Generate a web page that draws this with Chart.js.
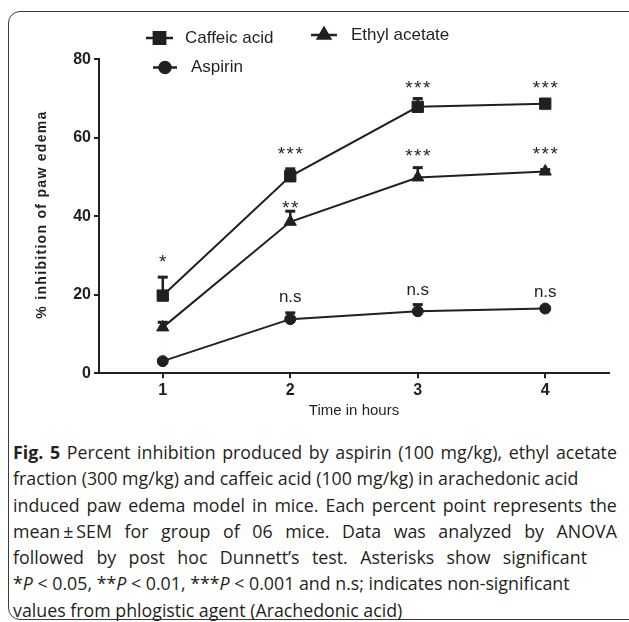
<!DOCTYPE html>
<html>
<head>
<meta charset="utf-8">
<title>Fig. 5</title>
<script src="https://cdn.jsdelivr.net/npm/chart.js@4.4.1/dist/chart.umd.min.js"></script>
<style>
  html, body { margin: 0; padding: 0; background: #fff; }
  body { width: 629px; height: 622px; position: relative; overflow: hidden; }
  #frame { position: absolute; left: 8px; top: 11px; width: 660px; height: 607px;
           border: 1.5px solid #3a3a3a; border-radius: 12px; }
  #chart { position: absolute; left: 0; top: 0; }
  #caption { position: absolute; left: 13px; top: 439px; width: 604px;
             font-family: "Open Sans", "Noto Sans", sans-serif; font-size: 17.8px;
             line-height: 26.3px; color: #231f20; }
  .ln { white-space: nowrap; height: 26.3px; }
  .j { display: flex; justify-content: space-between; }
</style>
</head>
<body>
<div id="frame"></div>
<canvas id="chart" width="629" height="430"></canvas>
<div id="caption"></div>

<script>
// Data (% inhibition, mean and upper SEM)
const hours = [1, 2, 3, 4];
const caffeicMean = [19.8, 50.2, 67.9, 68.7];
const caffeicSem = [4.7, 1.9, 2.1, 0.5];
const ethylMean = [11.7, 38.6, 49.9, 51.4];
const ethylSem = [1.3, 2.7, 2.5, 0.5];
const aspirinMean = [3.1, 13.8, 15.8, 16.5];
const aspirinSem = [0.4, 1.6, 1.7, 0.4];

// significance marks and where they sit (y value of the mark centre)
const caffeicMarks = ['*', '***', '***', '***'];
const caffeicMarkY = [29.7, 57.1, 73.9, 74.0];
const ethylMarks = ['', '**', '***', '***'];
const ethylMarkY = [0, 43.3, 56.5, 57.1];
const aspirinMarks = ['', 'n.s', 'n.s', 'n.s'];
const aspirinMarkY = [0, 19.4, 21.0, 20.6];

const yTicks = [0, 20, 40, 60, 80];

const captionLines = [
  '<b>Fig.</b> <b>5</b> Percent inhibition produced by aspirin (100 mg/kg), ethyl acetate',
  'fraction (300 mg/kg) and caffeic acid (100 mg/kg) in arachedonic acid',
  'induced paw edema model in mice. Each percent point represents the',
  'mean\u2009±\u2009SEM for group of 06 mice. Data was analyzed by ANOVA',
  'followed by post hoc Dunnett\u2019s test. Asterisks show significant',
  '*<i>P</i> &lt; 0.05, **<i>P</i> &lt; 0.01, ***<i>P</i> &lt; 0.001 and n.s; indicates non-significant',
  'values from phlogistic agent (Arachedonic acid)'
];
const justified = [true, false, true, true, true, false, false];

const ink = '#231f20';
const family = '"Liberation Sans", Arial, sans-serif';

// Caption
const cap = document.getElementById('caption');
captionLines.forEach((line, i) => {
  const div = document.createElement('div');
  div.className = 'ln' + (justified[i] ? ' j' : '');
  if (justified[i]) {
    line.split(' ').forEach(w => {
      const s = document.createElement('span');
      s.innerHTML = w;
      div.appendChild(s);
    });
  } else {
    div.innerHTML = line;
  }
  if (i === 4) div.style.width = '574px';
  cap.appendChild(div);
});

function points(means) {
  return hours.map((h, i) => ({ x: h, y: means[i] }));
}

// upper error bars, drawn under the markers
const errorBars = {
  id: 'errorBars',
  beforeDatasetsDraw(chart) {
    const { ctx, scales: { x, y } } = chart;
    ctx.save();
    ctx.strokeStyle = ink;
    chart.data.datasets.forEach(ds => {
      ds.data.forEach((p, i) => {
        const px = x.getPixelForValue(p.x);
        const y0 = y.getPixelForValue(p.y);
        const y1 = y.getPixelForValue(p.y + ds.sem[i]);
        ctx.lineWidth = 2.5;
        ctx.beginPath();
        ctx.moveTo(px, y0);
        ctx.lineTo(px, y1);
        ctx.stroke();
        ctx.lineWidth = 3;
        ctx.beginPath();
        ctx.moveTo(px - 5, y1);
        ctx.lineTo(px + 5, y1);
        ctx.stroke();
      });
    });
    ctx.restore();
  }
};

// asterisks and n.s above the points
const sigMarks = {
  id: 'sigMarks',
  afterDatasetsDraw(chart) {
    const { ctx, scales: { x, y } } = chart;
    ctx.save();
    ctx.fillStyle = ink;
    ctx.textAlign = 'center';
    ctx.textBaseline = 'alphabetic';
    chart.data.datasets.forEach(ds => {
      ds.marks.forEach((m, i) => {
        if (!m) return;
        const px = x.getPixelForValue(hours[i]);
        const py = y.getPixelForValue(ds.markY[i]);
        if (m.startsWith('*')) {
          ctx.font = '19px ' + family;
          ctx.letterSpacing = '1.5px';
          ctx.fillText(m, px + 0.75, py + 0.57 * 19);
        } else {
          ctx.font = '17px ' + family;
          ctx.letterSpacing = '0px';
          ctx.fillText(m, px, py + 0.27 * 17);
        }
      });
    });
    ctx.restore();
  }
};

// legend in two rows like the original, plus spaced y title
const extras = {
  id: 'extras',
  afterDraw(chart, args, opts) {
    const { ctx } = chart;
    ctx.save();
    chart.data.datasets.forEach((ds, i) => {
      const it = opts.items[i];
      ctx.strokeStyle = ink;
      ctx.fillStyle = ink;
      ctx.lineWidth = 2.5;
      ctx.beginPath();
      ctx.moveTo(it.x1, it.y);
      ctx.lineTo(it.x2, it.y);
      ctx.stroke();
      Chart.helpers.drawPoint(ctx, {
        pointStyle: ds.pointStyle, radius: ds.pointRadius, rotation: 0, borderWidth: 1
      }, (it.x1 + it.x2) / 2, it.y);
      ctx.font = '17px ' + family;
      ctx.textAlign = 'left';
      ctx.textBaseline = 'middle';
      ctx.fillText(ds.label, it.tx, it.y);
    });

    ctx.translate(opts.titleX, opts.titleY);
    ctx.rotate(-Math.PI / 2);
    ctx.font = 'bold 14px ' + family;
    ctx.letterSpacing = '1.3px';
    ctx.textAlign = 'center';
    ctx.textBaseline = 'middle';
    ctx.fillText(opts.title, 0, 0);
    ctx.restore();
  }
};

const axisStyle = {
  grid: { drawOnChartArea: false, tickLength: 5, color: ink, lineWidth: 2 },
  border: { color: ink, width: 2 },
  ticks: { padding: 3, color: ink, font: { family: family, size: 16, weight: 'bold' } }
};

const config = {
  type: 'line',
  data: {
    datasets: [
      {
        label: 'Caffeic acid', data: points(caffeicMean), sem: caffeicSem,
        marks: caffeicMarks, markY: caffeicMarkY, pointStyle: 'rect', pointRadius: 8
      },
      {
        label: 'Ethyl acetate', data: points(ethylMean), sem: ethylSem,
        marks: ethylMarks, markY: ethylMarkY, pointStyle: 'triangle', pointRadius: 7
      },
      {
        label: 'Aspirin', data: points(aspirinMean), sem: aspirinSem,
        marks: aspirinMarks, markY: aspirinMarkY, pointStyle: 'circle', pointRadius: 5.5
      }
    ].map(ds => Object.assign(ds, {
      borderColor: ink, backgroundColor: ink, borderWidth: 2,
      pointBackgroundColor: ink, pointBorderColor: ink, pointBorderWidth: 1, tension: 0
    }))
  },
  options: {
    responsive: false,
    animation: false,
    layout: { padding: { top: 59.3, right: 20, bottom: 0, left: 0 } },
    plugins: {
      legend: { display: false },
      tooltip: { enabled: false },
      extras: {
        items: [
          { x1: 146, x2: 173, y: 38, tx: 185 },
          { x1: 311, x2: 337, y: 35, tx: 351 },
          { x1: 153, x2: 177, y: 67.5, tx: 191 }
        ],
        title: '% inhibition of paw edema',
        titleX: 42,
        titleY: 214.5
      }
    },
    scales: {
      x: Object.assign({}, axisStyle, {
        type: 'linear', min: 0.5, max: 4.5,
        afterBuildTicks: s => { s.ticks = hours.map(v => ({ value: v })); },
        afterFit: s => { s.height = 56.7; },
        title: {
          display: true, text: 'Time in hours', color: ink,
          font: { family: family, size: 15 }, padding: { top: 0, bottom: 10 }
        }
      }),
      y: Object.assign({}, axisStyle, {
        min: 0, max: 80,
        afterBuildTicks: s => { s.ticks = yTicks.map(v => ({ value: v })); },
        afterFit: s => { s.width = 99; }
      })
    }
  },
  plugins: [errorBars, sigMarks, extras]
};

new Chart(document.getElementById('chart').getContext('2d'), config);
</script>
</body>
</html>
